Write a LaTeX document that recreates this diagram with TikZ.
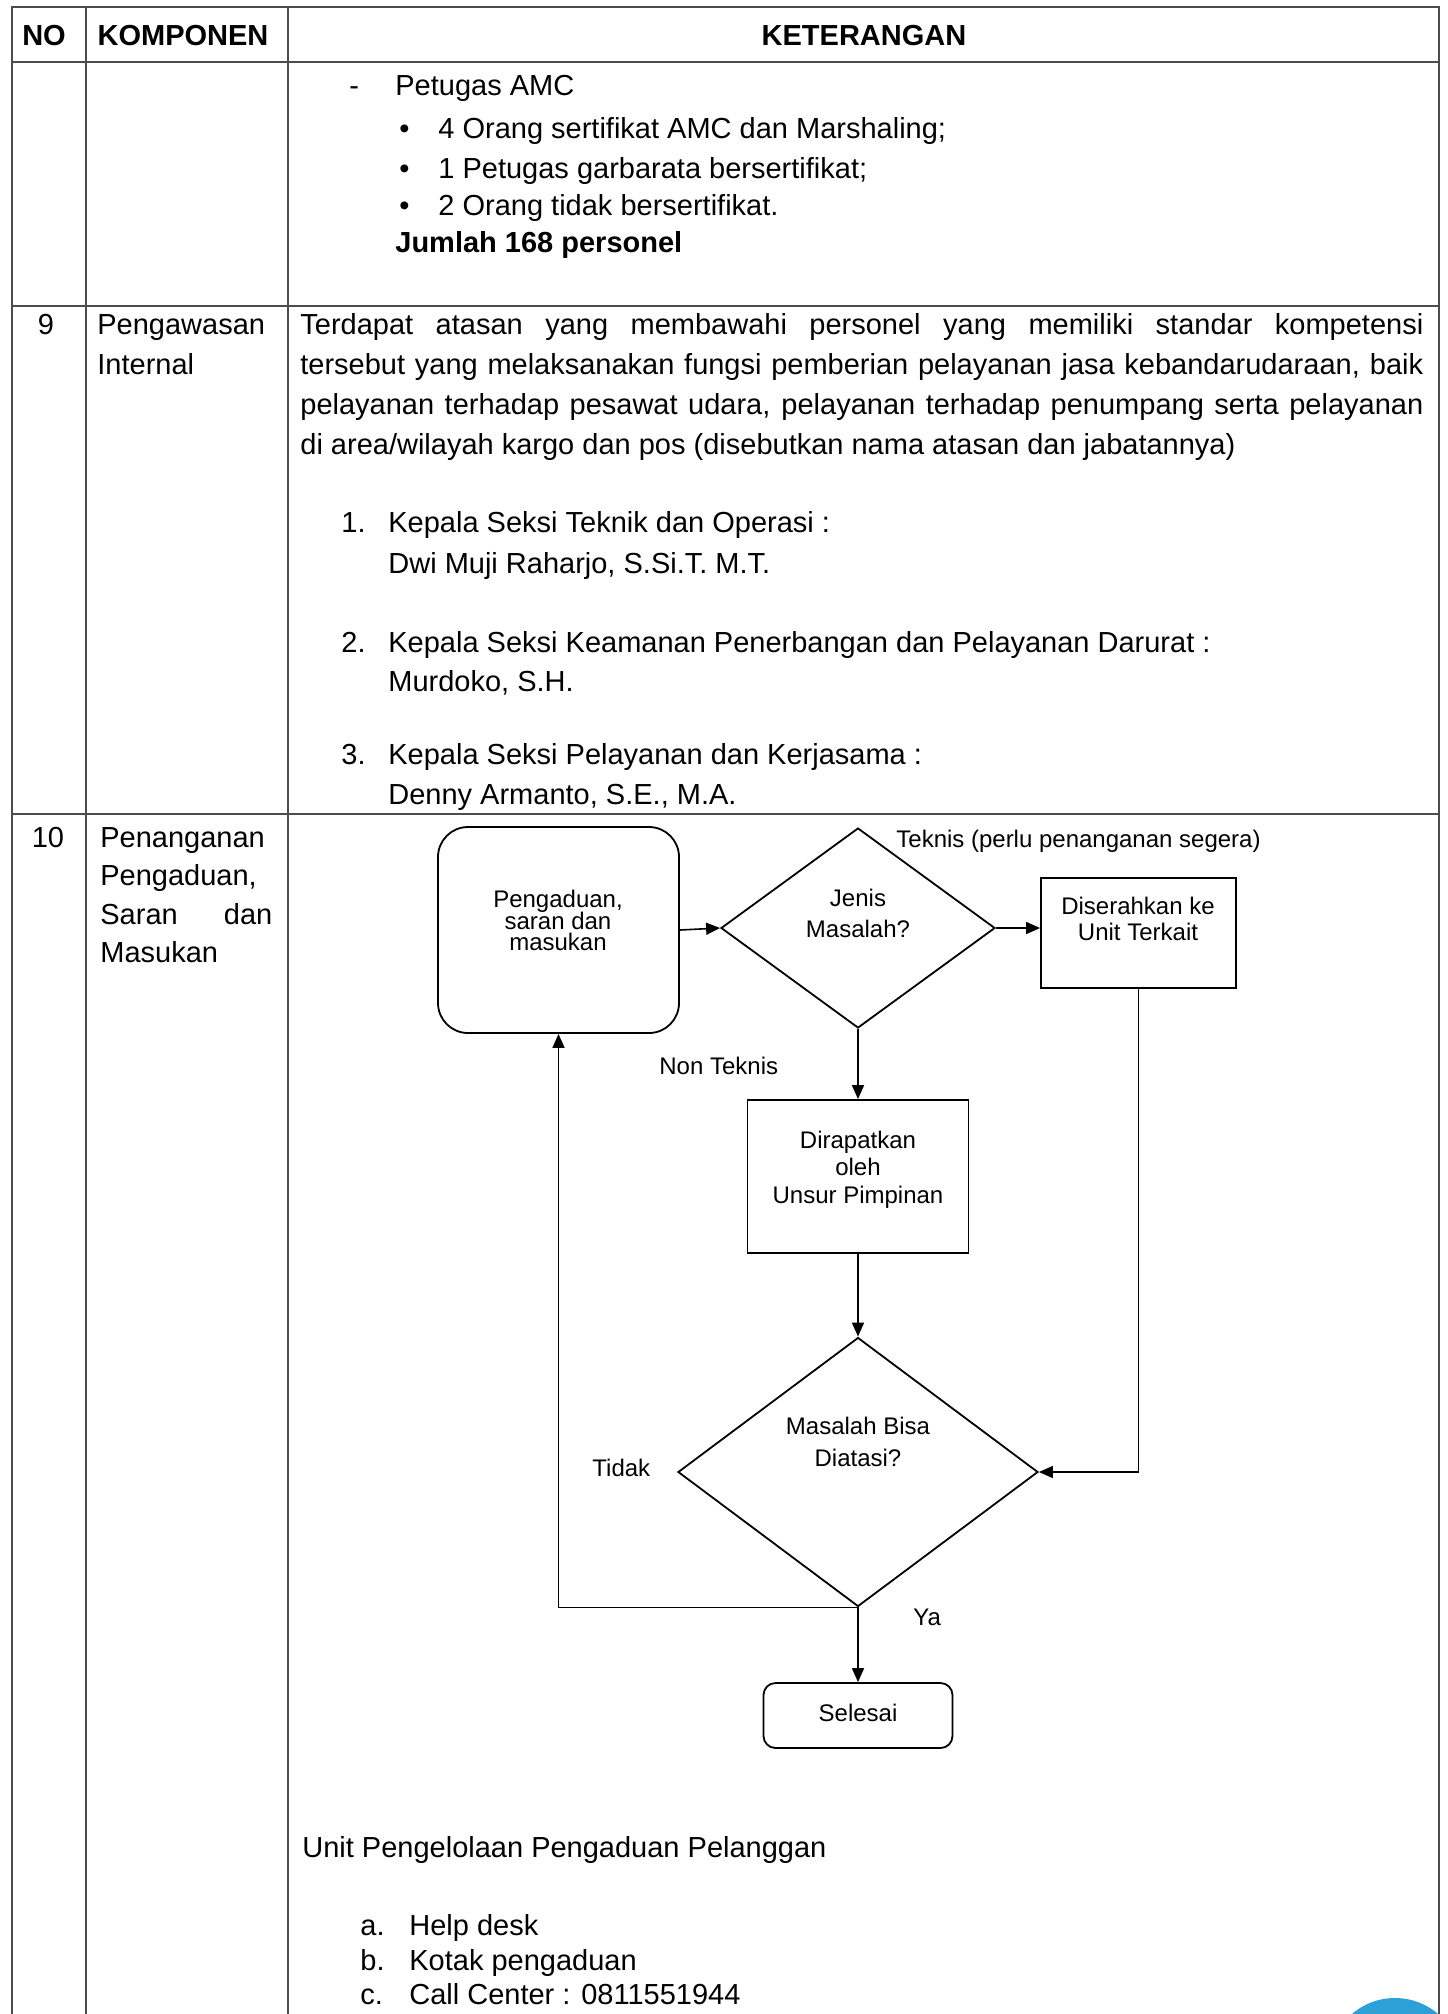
\documentclass[tikz,border=0pt]{standalone}
\usepackage{fontspec}
\setmainfont{Liberation Sans}
\usetikzlibrary{shapes.geometric,arrows.meta}
\begin{document}
\begin{tikzpicture}[x=0.5pt,y=-0.5pt,
  grid/.style={line width=1pt, draw=black!70},
  txt/.style={anchor=base west, inner sep=0, font=\fontsize{14.5}{17}\selectfont},
  txtb/.style={txt, font=\fontsize{14.5}{17}\selectfont\bfseries},
  txtc/.style={anchor=base, inner sep=0, font=\fontsize{14.5}{17}\selectfont},
  hdr/.style={anchor=base, inner sep=0, font=\fontsize{14.5}{17}\selectfont\bfseries},
  ftxt/.style={anchor=base, inner sep=0, font=\fontsize{12}{14}\selectfont},
  flbl/.style={anchor=base west, inner sep=0, font=\fontsize{12}{14}\selectfont},
  flowbox/.style={draw, line width=0.9pt, inner sep=0},
  conn/.style={line width=0.8pt},
  arr/.style={conn, -{Triangle[length=7pt,width=6pt]}},
]
\useasboundingbox (0,0) rectangle (1447,2014);
\fill[white] (0,0) rectangle (1447,2014);
% table grid
\draw[grid] (12,2014) -- (12,7) -- (1439,7) -- (1439,2014);
\draw[grid] (86,7) -- (86,2014);
\draw[grid] (288,7) -- (288,2014);
\draw[grid] (12,62) -- (1439,62);
\draw[grid] (12,306) -- (1439,306);
\draw[grid] (12,814) -- (1439,814);
% header
\node[hdr] (hno) at (44,45) {NO};
\node[hdr] (hkomp) at (183,45) {KOMPONEN};
\node[hdr] (hket) at (864,45) {KETERANGAN};
% row 8 continued
\node[txt] (r8d) at (349,95) {-};
\node[txt] (r8a) at (395,95) {Petugas AMC};
\node[txt] (r8b1) at (399,138) {\textbullet};
\node[txt] (r8t1) at (438,138) {4 Orang sertifikat AMC dan Marshaling;};
\node[txt] (r8b2) at (399,178) {\textbullet};
\node[txt] (r8t2) at (438,178) {1 Petugas garbarata bersertifikat;};
\node[txt] (r8b3) at (399,215) {\textbullet};
\node[txt] (r8t3) at (438,215) {2 Orang tidak bersertifikat.};
\node[txtb] (r8j) at (395,252) {Jumlah 168 personel};
% row 9
\node[txtc] (r9no) at (46,334) {9};
\node[txt] (r9k1) at (97,334) {Pengawasan};
\node[txt] (r9k2) at (97,374) {Internal};
\node[txt] (p1) at (300,334) {\makebox[561.5pt][s]{Terdapat atasan yang membawahi personel yang memiliki standar kompetensi}};
\node[txt] (p2) at (300,374) {\makebox[561.5pt][s]{tersebut yang melaksanakan fungsi pemberian pelayanan jasa kebandarudaraan, baik}};
\node[txt] (p3) at (300,414) {\makebox[561.5pt][s]{pelayanan terhadap pesawat udara, pelayanan terhadap penumpang serta pelayanan}};
\node[txt] (p4) at (300,454) {di area/wilayah kargo dan pos (disebutkan nama atasan dan jabatannya)};
\node[txt] (n1) at (341,532) {1.};
\node[txt] (l1a) at (388,532) {Kepala Seksi Teknik dan Operasi :};
\node[txt] (l1b) at (388,573) {Dwi Muji Raharjo, S.Si.T. M.T.};
\node[txt] (n2) at (341,652) {2.};
\node[txt] (l2a) at (388,652) {Kepala Seksi Keamanan Penerbangan dan Pelayanan Darurat :};
\node[txt] (l2b) at (388,691) {Murdoko, S.H.};
\node[txt] (n3) at (341,764) {3.};
\node[txt] (l3a) at (388,764) {Kepala Seksi Pelayanan dan Kerjasama :};
\node[txt] (l3b) at (388,804) {Denny Armanto, S.E., M.A.};
% row 10
\node[txtc] (r10no) at (48,847) {10};
\node[txt] (r10k1) at (100,847) {Penanganan};
\node[txt] (r10k2) at (100,885) {Pengaduan,};
\node[txt] (r10k3) at (100,924) {\makebox[86pt][l]{Saran\hfill dan}};
\node[txt] (r10k4) at (100,962) {Masukan};
% flowchart shapes
\node[flowbox, rounded corners=15pt, minimum width=120.5pt, minimum height=103pt] (A) at (558.5,930) {};
\node[flowbox, diamond, minimum width=137pt, minimum height=100pt] (D1) at (858,928) {};
\node[flowbox, minimum width=97.5pt, minimum height=55pt] (B) at (1138.5,933) {};
\node[flowbox, minimum width=110.5pt, minimum height=76.5pt] (C) at (858,1176.5) {};
\node[flowbox, diamond, minimum width=180pt, minimum height=134.5pt] (D2) at (858,1472) {};
\node[flowbox, rounded corners=6pt, minimum width=94.5pt, minimum height=32.5pt] (S) at (858,1715.5) {};
% flowchart texts
\node[ftxt] (a1) at (558,907) {Pengaduan,};
\node[ftxt] (a2) at (558,929) {saran dan};
\node[ftxt] (a3) at (558,950) {masukan};
\node[ftxt] (d1a) at (858,906) {Jenis};
\node[ftxt] (d1b) at (858,937) {Masalah?};
\node[ftxt] (b1) at (1138,914) {Diserahkan ke};
\node[ftxt] (b2) at (1138,940) {Unit Terkait};
\node[ftxt] (c1) at (858,1148) {Dirapatkan};
\node[ftxt] (c2) at (858,1175) {oleh};
\node[ftxt] (c3) at (858,1203) {Unsur Pimpinan};
\node[ftxt] (d2a) at (858,1434) {Masalah Bisa};
\node[ftxt] (d2b) at (858,1466) {Diatasi?};
\node[ftxt] (s1) at (858,1721) {Selesai};
\node[flbl] (lt) at (896,847) {Teknis (perlu penanganan segera)};
\node[flbl] (lnt) at (659,1074) {Non Teknis};
\node[flbl] (ltd) at (592,1476) {Tidak};
\node[flbl] (lya) at (913,1625) {Ya};
% connectors
\draw[arr] (A.east) -- (D1.west);
\draw[arr] (D1.east) -- (B.west |- D1.east);
\draw[arr] (D1.south) -- (C.north);
\draw[arr] (C.south) -- (D2.north);
\draw[arr] (B.south) |- (D2.east);
\draw[arr] (D2.south) -| (A.south);
\draw[arr] (D2.south) -- (S.north);
% bottom text
\node[txt] (u0) at (302,1857) {Unit Pengelolaan Pengaduan Pelanggan};
\node[txt] (ua) at (360,1935) {a.};
\node[txt] (uat) at (409,1935) {Help desk};
\node[txt] (ub) at (360,1970) {b.};
\node[txt] (ubt) at (409,1970) {Kotak pengaduan};
\node[txt] (uc) at (360,2004) {c.};
\node[txt] (uct) at (409,2004) {Call Center : 0811551944};
% blue seal fragment
\begin{scope}
\clip (0,0) rectangle (1447,2014);
\fill[color={rgb,255:red,45;green,160;blue,215}] (1395,2064) circle (33pt);
\end{scope}
\end{tikzpicture}
\end{document}
